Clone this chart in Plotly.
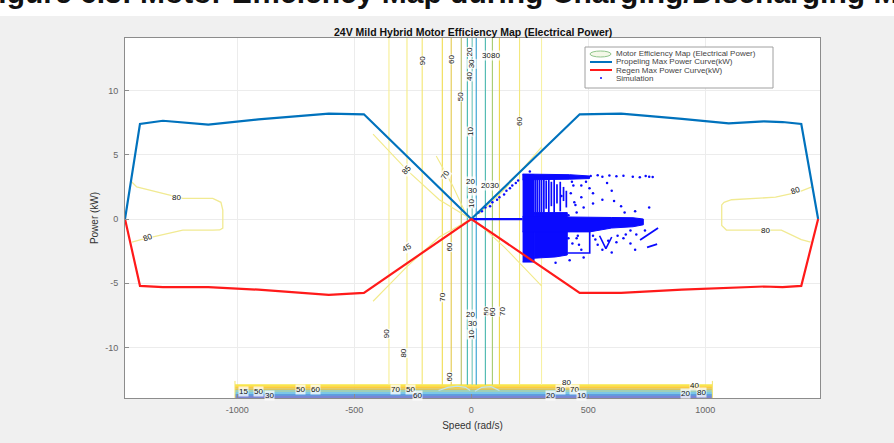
import plotly.graph_objects as go

# ---------------- data ----------------
# Propelling / regen max power envelope (speed rad/s, power kW)
env_speed = [-1480, -1416, -1318, -1124, -910, -609, -459, 0, 463, 640, 900, 1100, 1250, 1330, 1410, 1482]
prop_power = [0.0, 7.4, 7.65, 7.35, 7.75, 8.2, 8.15, 0.0, 8.15, 8.2, 7.8, 7.45, 7.6, 7.55, 7.4, 0.0]
regen_power = [0.0, -5.2, -5.3, -5.3, -5.5, -5.9, -5.75, 0.0, -5.75, -5.75, -5.5, -5.35, -5.25, -5.3, -5.2, 0.0]

# Efficiency contour lines
vert_speed = [-352, -275, -210, -124, -86, -43, -17, 4, 21, 60, 90, 120, 206, 300]
vert_color = ['#f7ef95', '#f5ec85', '#f3e670', '#f0dc50', '#e4c94c', '#b9bf62', '#3fb6ae',
              '#7ccfc4', '#2f9fd2', '#47b7ae', '#a5cb6c', '#efd64a', '#f3e87e', '#f7f1a4']
vert_top = 14.2
vert_bot = -12.9

loopL_speed = [-1452, -1430, -1233, -1105, -1070, -1062, -1062, -1075, -1105, -1233, -1412, -1450]
loopL_power = [2.9, 2.5, 1.6, 1.6, 1.3, 0.7, -0.7, -0.85, -0.86, -0.86, -1.6, -1.8]
loopR_speed = [1455, 1398, 1300, 1112, 1080, 1070, 1070, 1090, 1325, 1410, 1450]
loopR_power = [2.5, 2.1, 1.7, 1.5, 1.3, 1.1, -0.5, -0.86, -0.86, -1.6, -1.8]

diag_ul_speed = [-420, -275, -137, -9]
diag_ul_power = [6.6, 3.8, 1.5, 0.08]
diag_ul2_speed = [-150, -80, -17]
diag_ul2_power = [4.9, 2.6, 0.15]
diag_ll_speed = [-420, -275, -137, -9]
diag_ll_power = [-6.4, -3.7, -1.4, -0.08]
diag_ur_speed = [300, 142, 34]
diag_ur_power = [5.6, 2.3, 0.4]
diag_lr_speed = [300, 142, 34]
diag_lr_power = [-5.2, -2.2, -0.4]

band_power = [-12.95, -13.1, -13.25, -13.4, -13.55, -13.7, -13.85]
band_color = ['#f8e64a', '#fccc3a', '#d8c560', '#9fd0b8', '#7cc8e6', '#5d9fe0', '#7a86d4']
band_speed = [-1010, 1030]
arc_speed_a = [-140, -100, -60, -25, -5]
arc_power_a = [-13.35, -13.1, -13.0, -13.1, -13.35]
arc_speed_b = [15, 45, 85, 120]
arc_power_b = [-13.4, -13.1, -13.05, -13.35]

# contour labels (speed, power, text, angle)
lab_speed = [-210, -86, -8, 2, -8, 64, 104, -43, -4, 206,
             -279, -112, -4, 4, 0, 62, 100,
             -275, -94, -124, -4, 4, 0, 64, 92, 133, -365, -288, -94,
             -975, -910, -862, -730, -665, -322, -262, -228,
             340, 380, 405, 440, 470, 915, 952, 985,
             -1258, -1382, 1386, 1258]
lab_power = [12.3, 12.4, 13.0, 12.1, 11.1, 12.7, 12.7, 9.5, 6.8, 7.6,
             3.8, 3.4, 2.9, 2.2, 1.2, 2.6, 2.6,
             -2.2, -2.2, -6.1, -7.4, -8.1, -9.0, -7.2, -7.2, -7.2, -8.9, -10.4, -12.3,
             -13.45, -13.45, -13.75, -13.25, -13.3, -13.3, -13.3, -13.75,
             -13.7, -13.3, -12.75, -13.3, -13.7, -13.55, -12.95, -13.5,
             1.7, -1.4, 2.2, -0.9]
lab_text = ['90', '60', '20', '30', '40', '30', '80', '50', '10', '60',
            '85', '70', '20', '30', '10', '20', '30',
            '45', '60', '70', '20', '30', '10', '50', '60', '70', '90', '80', '60',
            '15', '50', '30', '50', '60', '70', '50', '60',
            '20', '30', '80', '70', '10', '20', '40', '80',
            '80', '80', '80', '80']
lab_angle = [-90, -90, -90, -90, -90, 0, 0, -90, -90, -90,
             -50, -60, 0, 0, -90, 0, 0,
             -30, -90, -90, 0, 0, -90, -90, -90, -90, -90, -90, -90,
             0, 0, 0, 0, 0, 0, 0, 0,
             0, 0, 0, 0, 0, 0, 0, 0,
             0, -20, -20, 0]

# Simulation cloud: dense regions (polygons), streaks and scattered samples
sim_block_speed = [219, 268, 268, 219]
sim_block_power = [3.45, 3.45, -3.35, -3.35]
sim_lower_speed = [268, 410, 410, 360, 268]
sim_lower_power = [0.5, 0.5, -2.8, -2.95, -3.05]
sim_top_speed = [219, 420, 505, 505, 420, 219]
sim_top_power = [3.5, 3.45, 3.35, 3.15, 3.1, 3.05]
sim_band_speed = [219, 506, 600, 691, 735, 735, 691, 600, 506, 219]
sim_band_power = [0.2, 0.18, 0.12, 0.1, 0.0, -0.45, -0.6, -0.7, -1.0, -1.0]
sim_streak_speed = [274, 282, 291, 300, 310, 320, 331, 342, 354, 366, 380, 394, 406]
sim_streak_top = [3.3, 3.2, 3.35, 3.1, 3.3, 3.0, 3.2, 2.9, 3.1, 2.7, 2.9, 2.5, 2.2]
sim_streak_bot = [0.5, 0.5, 0.5, 0.5, 0.5, 0.8, 0.5, 1.0, 0.5, 1.2, 0.6, 1.4, 0.9]
sim_zero_speed = [0, 219]
sim_zero_power = [0.0, 0.0]
sim_hook_speed = [410, 506, 506]
sim_hook_power = [-2.65, -2.65, -1.0]
sim_v_speed = [548, 575, 600]
sim_v_power = [-1.3, -2.3, -1.4]
sim_d1_speed = [721, 798]
sim_d1_power = [-1.63, -0.7]
sim_d2_speed = [751, 794]
sim_d2_power = [-2.2, -1.95]
sim_pts_speed = [30, 60, 90, 120, 150, 175, 200, 510, 540, 560, 590, 620, 650, 690, 720, 745,
                 760, 775, 430, 470, 520, 560, 600, 640, 700, 760, 440, 480, 530, 620, 660, 700,
                 460, 420, 480, 360, 250, 580, 610, 655, 540, 450, 505, 385, 600, 680,
                 45, 80, 110, 140, 165, 190, 425, 445, 470, 415, 432, 455, 650, 680, 560, 470,
                 520, 585, 625, 705, 742, 450, 490, 520, 415, 436]
sim_pts_power = [0.5, 0.9, 1.3, 1.7, 2.2, 2.6, 3.0, 3.35, 3.4, 3.3, 3.38, 3.32, 3.36, 3.3, 3.25, 3.35,
                 3.3, 3.28, 2.9, 2.6, 2.0, 1.5, 2.2, 1.0, 0.6, 0.9, 1.3, 0.9, -1.6, -1.8, -1.2, -2.4,
                 -2.0, -3.2, -3.0, -3.4, 3.7, 2.8, 1.4, 0.5, -2.0, -1.5, 2.4, 1.8, -2.6, -0.9,
                 0.6, 1.0, 1.5, 1.9, 2.4, 2.8, 2.0, 1.1, 1.7, -1.5, -1.9, -1.3, -1.5, -1.9, -2.4, -2.4,
                 -1.3, -1.7, -1.3, -1.2, -0.9, 0.5, 2.9, 1.2, 0.3, 2.6]

x_ticks = [-1000, -500, 0, 500, 1000]
x_ticktext = ['-1000', '-500', '0', '500', '1000']
y_ticks = [-10, -5, 0, 5, 10]
y_ticktext = ['-10', '-5', '0', '5', '10']

SIM = '#0a0aff'

# ---------------- figure ----------------
fig = go.Figure()

def line(xs, ys, color, width=1.0, **kw):
    fig.add_trace(go.Scatter(x=xs, y=ys, mode='lines', line=dict(color=color, width=width),
                             hoverinfo='skip', showlegend=False, **kw))

# bottom dense contour band
for p, c in zip(band_power, band_color):
    line(band_speed, [p, p], c, 2.2)
line(arc_speed_a, arc_power_a, '#bfe3f2', 1.2)
line(arc_speed_b, arc_power_b, '#bfe3f2', 1.2)
line([band_speed[0], band_speed[0]], [-13.93, -12.6], '#f3e46a', 1)
line([band_speed[1], band_speed[1]], [-13.93, -12.6], '#f3e46a', 1)

# vertical contours
for s, c in zip(vert_speed, vert_color):
    line([s, s], [vert_top, vert_bot], c, 1.1)

# diagonal contours
for xs, ys in [(diag_ul_speed, diag_ul_power), (diag_ul2_speed, diag_ul2_power),
               (diag_ll_speed, diag_ll_power), (diag_ur_speed, diag_ur_power),
               (diag_lr_speed, diag_lr_power)]:
    line(xs, ys, '#f2ea8a', 1.1)

# side loops
line(loopL_speed, loopL_power, '#f1ea92', 1.3)
line(loopR_speed, loopR_power, '#f1ea92', 1.3)

# simulation
for xs, ys in [(sim_block_speed, sim_block_power), (sim_lower_speed, sim_lower_power),
               (sim_top_speed, sim_top_power), (sim_band_speed, sim_band_power)]:
    fig.add_trace(go.Scatter(x=xs, y=ys, mode='lines', fill='toself', fillcolor=SIM,
                             line=dict(color=SIM, width=1), hoverinfo='skip', showlegend=False))
for s, t, b in zip(sim_streak_speed, sim_streak_top, sim_streak_bot):
    line([s, s], [t, b], SIM, 1.7)
line(sim_zero_speed, sim_zero_power, SIM, 2.2)
line(sim_hook_speed, sim_hook_power, SIM, 1.6)
line(sim_v_speed, sim_v_power, SIM, 1.6)
line(sim_d1_speed, sim_d1_power, SIM, 1.8)
line(sim_d2_speed, sim_d2_power, SIM, 1.8)
fig.add_trace(go.Scatter(x=sim_pts_speed, y=sim_pts_power, mode='markers',
                         marker=dict(color=SIM, size=2.5), hoverinfo='skip', showlegend=False))

# envelopes
line(env_speed, prop_power, '#0072BD', 2.2)
line(env_speed, regen_power, '#ff1a1a', 2.2)

# ---------------- layout ----------------
L, R, T, B = 125, 74, 38, 45
W, H = 894, 443
PW, PH = W - L - R, H - T - B

def px(xp):
    return (xp - L) / PW

def py(yp):
    return (H - B - yp) / PH

ann = []
for s, p, t, a in zip(lab_speed, lab_power, lab_text, lab_angle):
    ann.append(dict(x=s, y=p, xref='x', yref='y', text=t, showarrow=False, textangle=a,
                    font=dict(family='Liberation Sans', size=8, color='#111'),
                    bgcolor='rgba(255,255,255,0.75)', borderpad=0))

# caption fragment at top of page (cut off by the page edge in the reference)
ann.append(dict(x=px(-22), y=py(11), xref='paper', yref='paper', xanchor='left', yanchor='bottom',
                text='<b>Figure 6.3: Motor Efficiency Map during Charging/Discharging Mode (Simulation)</b>',
                showarrow=False, font=dict(family='Liberation Sans', size=30, color='#111')))
# title
ann.append(dict(x=0.5, y=py(32), xref='paper', yref='paper', xanchor='center', yanchor='middle',
                text='<b>24V Mild Hybrid Motor Efficiency Map (Electrical Power)</b>', showarrow=False,
                font=dict(family='Liberation Sans', size=10.5, color='#111')))

# manual legend
leg_rows = [54, 62, 70, 78]
leg_text = ['Motor Efficiency Map (Electrical Power)', 'Propeling Max Power Curve(kW)',
            'Regen Max Power Curve(kW)', 'Simulation']
for yy, tt in zip(leg_rows, leg_text):
    ann.append(dict(x=px(614), y=py(yy), xref='paper', yref='paper', xanchor='left', yanchor='middle',
                    text=tt, showarrow=False, font=dict(family='Liberation Sans', size=8, color='#444')))

shapes = [
    dict(type='rect', xref='paper', yref='paper', x0=px(-2), x1=px(W + 2), y0=py(16), y1=py(-2),
         fillcolor='white', line=dict(width=0), layer='below'),
    dict(type='rect', xref='paper', yref='paper', x0=px(585), x1=px(773), y0=py(88), y1=py(47),
         fillcolor='white', line=dict(color='#a0a0a0', width=1), layer='above'),
    dict(type='circle', xref='paper', yref='paper', x0=px(590), x1=px(611), y0=py(57), y1=py(51),
         fillcolor='#f4f8e8', line=dict(color='#8fc48a', width=1), layer='above'),
    dict(type='line', xref='paper', yref='paper', x0=px(590), x1=px(612), y0=py(62), y1=py(62),
         line=dict(color='#0072BD', width=2), layer='above'),
    dict(type='line', xref='paper', yref='paper', x0=px(590), x1=px(612), y0=py(70), y1=py(70),
         line=dict(color='#ff1a1a', width=2), layer='above'),
    dict(type='circle', xref='paper', yref='paper', x0=px(600), x1=px(602), y0=py(79), y1=py(77),
         fillcolor=SIM, line=dict(width=0), layer='above'),
]

axis_common = dict(showline=True, linecolor='#8c8c8c', linewidth=1, mirror=True,
                   ticks='inside', ticklen=4, tickcolor='#8c8c8c',
                   showgrid=True, gridcolor='#ececec', gridwidth=1, zeroline=False,
                   tickfont=dict(family='Liberation Sans', size=9, color='#666'))

fig.update_layout(
    width=W, height=H,
    margin=dict(l=L, r=R, t=T, b=B),
    paper_bgcolor='#f0f0f0', plot_bgcolor='white',
    showlegend=False,
    xaxis=dict(range=[-1480, 1490], tickvals=x_ticks, ticktext=x_ticktext,
               title=dict(text='Speed (rad/s)', standoff=8,
                          font=dict(family='Liberation Sans', size=10, color='#333')),
               ticklabelstandoff=3, **axis_common),
    yaxis=dict(range=[-13.93, 14.09], tickvals=y_ticks, ticktext=y_ticktext,
               title=dict(text='Power (kW)', standoff=4,
                          font=dict(family='Liberation Sans', size=10, color='#333')),
               ticklabelstandoff=4, **axis_common),
    annotations=ann, shapes=shapes,
)

fig.write_html('out.html', config={'displayModeBar': False},
               post_script="document.body.style.margin='0';document.body.style.overflow='hidden';")
